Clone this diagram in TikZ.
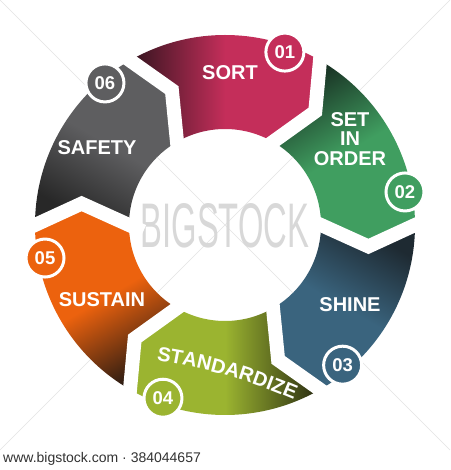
\documentclass[tikz,border=0pt]{standalone}
\usepackage{fontspec}
\setmainfont{Liberation Sans}
\usetikzlibrary{calc,decorations.text}
\definecolor{sortc}{RGB}{196,46,90}
\definecolor{sortd}{RGB}{50,20,30}
\definecolor{setc}{RGB}{64,158,96}
\definecolor{setd}{RGB}{25,50,36}
\definecolor{shinec}{RGB}{58,100,126}
\definecolor{shined}{RGB}{30,42,50}
\definecolor{stdc}{RGB}{155,180,48}
\definecolor{stdd}{RGB}{40,42,18}
\definecolor{susc}{RGB}{236,98,14}
\definecolor{susd}{RGB}{45,28,18}
\definecolor{safc}{RGB}{94,94,96}
\definecolor{safd}{RGB}{40,40,40}
\definecolor{wmgrey}{RGB}{216,216,216}
\definecolor{ftgrey}{RGB}{50,50,50}
\newcommand\ringRo{190}
\newcommand\ringRi{96}
\newcommand\ringRv{145}
\newcommand\ringDl{8.5}
\newcommand\stdfont{\bfseries\fontsize{20}{20}\selectfont}
\begin{document}
\begin{tikzpicture}[x=1pt,y=1pt,
  segsh/.style n args={3}{top color=#2, bottom color=#1, middle color=#2, shading angle=#3},
  gapline/.style={draw=white, line width=14pt, line join=miter},
  lab/.style={text=white, font=\bfseries\fontsize{20}{19.5}\selectfont, inner sep=0pt},
  numc/.style={circle, draw=white, line width=3pt, minimum size=38pt, inner sep=0pt,
    text=white, font=\bfseries\fontsize{18.5}{18.5}\selectfont},
  wmline/.style={draw=gray!22, line width=0.7pt}]
\fill[white] (-225,-245) rectangle (225,225);
\useasboundingbox (-225,-245) rectangle (225,225);
% watermark
\draw[wmline] (-225,225) -- (225,-225);
\draw[wmline] (225,225) -- (-225,-225);
\node[text=wmgrey, font=\fontsize{63}{63}\selectfont, inner sep=0pt] (wm) at (0,-0.5) {\scalebox{0.52}[1]{BIGSTOCK}};
% boundary points
\foreach \t/\n in {120/A,60/B,0/C,-60/D,-120/E,180/F} {
  \coordinate (o\n) at (\t:\ringRo);
  \coordinate (v\n) at (\t-\ringDl:\ringRv);
  \coordinate (i\n) at (\t:\ringRi);
}
% segments
\shade[segsh={sortd}{sortc}{-90}] (oA) arc[start angle=120,end angle=60,radius=\ringRo] -- (vB) -- (iB) arc[start angle=60,end angle=120,radius=\ringRi] -- (vA) -- cycle;
\shade[segsh={setd}{setc}{-150}] (oB) arc[start angle=60,end angle=0,radius=\ringRo] -- (vC) -- (iC) arc[start angle=0,end angle=60,radius=\ringRi] -- (vB) -- cycle;
\shade[segsh={shined}{shinec}{150}] (oC) arc[start angle=0,end angle=-60,radius=\ringRo] -- (vD) -- (iD) arc[start angle=-60,end angle=0,radius=\ringRi] -- (vC) -- cycle;
\shade[segsh={stdd}{stdc}{90}] (oD) arc[start angle=-60,end angle=-120,radius=\ringRo] -- (vE) -- (iE) arc[start angle=-120,end angle=-60,radius=\ringRi] -- (vD) -- cycle;
\shade[segsh={susd}{susc}{30}] (oE) arc[start angle=-120,end angle=-180,radius=\ringRo] -- (vF) -- (iF) arc[start angle=-180,end angle=-120,radius=\ringRi] -- (vE) -- cycle;
\shade[segsh={safd}{safc}{-30}] (oF) arc[start angle=180,end angle=120,radius=\ringRo] -- (vA) -- (iA) arc[start angle=120,end angle=180,radius=\ringRi] -- (vF) -- cycle;
% gaps
\foreach \n in {A,B,C,D,E,F}
  \draw[gapline] ($(v\n)!1.25!(o\n)$) -- (v\n) -- ($(v\n)!1.3!(i\n)$);
% labels
\node[lab] (sort) at (5,152) {SORT};
\node[lab, align=center] (set) at (125,86) {SET\\IN\\ORDER};
\node[lab] (shine) at (125,-80) {SHINE};
\node[lab] (sus) at (-123,-75) {SUSTAIN};
\node[lab] (saf) at (-128,77) {SAFETY};
\path[decorate, decoration={text along path, text={|\stdfont|STANDARDIZE}, text color=white, text align=center}]
  (-75,-134.5) to[bend left=7] (75,-177.5);
% numbers
\node[numc, fill=sortc] (n1) at (70.9:183) {01};
\node[numc, fill=setc] (n2) at (10.4:183) {02};
\node[numc, fill=shinec] (n3) at (-50:183) {03};
\node[numc, fill=stdc] (n4) at (-109.7:184) {04};
\node[numc, fill=susc] (n5) at (-169.6:183) {05};
\node[numc, fill=safc] (n6) at (130.2:186) {06};
% footer
\node[anchor=base west, font=\fontsize{14}{14}\selectfont, text=ftgrey, inner sep=0pt] (ft) at (-222,-237) {www.bigstock.com · 384044657};
\end{tikzpicture}
\end{document}
